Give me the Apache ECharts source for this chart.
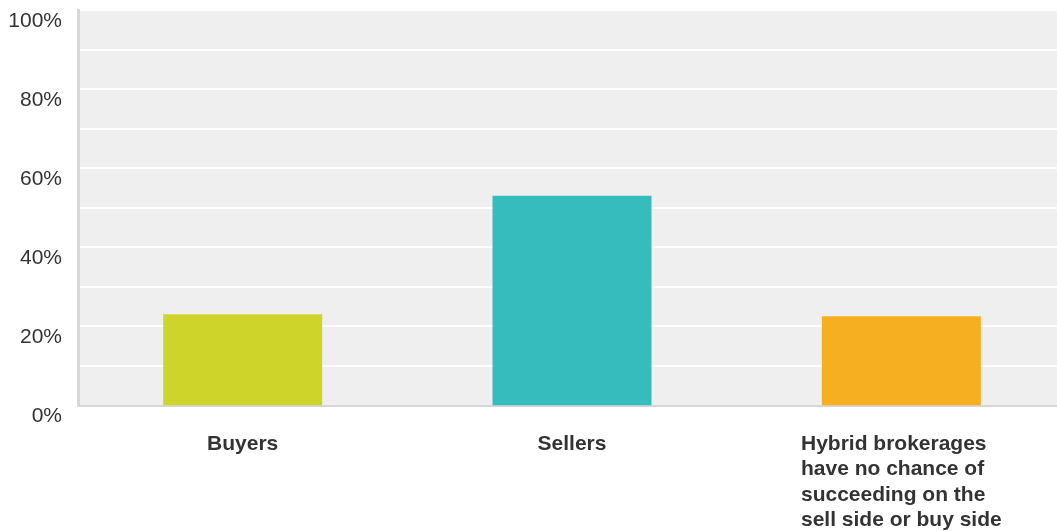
<!DOCTYPE html>
<html><head><meta charset="utf-8">
<script src="https://cdn.jsdelivr.net/npm/echarts@6/dist/echarts.min.js"></script>
<style>html,body{margin:0;padding:0;background:#fff;overflow:hidden}#c{width:1066px;height:531px}</style>
</head><body><div id="c"></div>
<script>
const categories = ['Buyers', 'Sellers', 'Hybrid brokerages have no chance of succeeding on the sell side or buy side'];
const categoryLines = [['Buyers'], ['Sellers'], ['Hybrid brokerages', 'have no chance of', 'succeeding on the', 'sell side or buy side']];
const values = [23.0, 53.0, 22.5];
const barColors = ['#cfd42a', '#35bdbe', '#f6af20'];
const yTicks = [0, 20, 40, 60, 80, 100];

const chart = echarts.init(document.getElementById('c'), null, {renderer: 'canvas'});
chart.setOption({
  animation: false,
  grid: {left: 78, top: 10, right: 0, height: 396, containLabel: false,
         show: true, backgroundColor: '#efefef', borderWidth: 0},
  xAxis: {
    type: 'category', data: categories,
    axisLine: {show: true, lineStyle: {color: '#d6d6d6', width: 2}},
    axisTick: {show: false},
    axisLabel: {
      interval: 0, margin: 26,
      formatter: function (v, i) { return categoryLines[i].map(l => '{a|' + l + '}').join('\n'); },
      rich: {a: {fontFamily: 'Liberation Sans, Arial, sans-serif', fontWeight: 'bold', fontSize: 21,
                 color: '#333', lineHeight: 25.5, align: 'left'}}
    }
  },
  yAxis: {
    type: 'value', min: 0, max: 100, interval: 10,
    axisLine: {show: true, lineStyle: {color: '#d6d6d6', width: 3}},
    axisTick: {show: false},
    splitLine: {show: true, lineStyle: {color: '#ffffff', width: 2}},
    axisLabel: {
      margin: 16, fontFamily: 'Liberation Sans, Arial, sans-serif', fontSize: 21, color: '#333',
      verticalAlign: 'top', lineHeight: 22,
      formatter: function (v) { return yTicks.indexOf(v) >= 0 ? v + '%' : ''; }
    }
  },
  series: [{
    type: 'bar', barWidth: 159,
    data: values.map((v, i) => ({value: v, itemStyle: {color: barColors[i]}}))
  }]
});
</script></body></html>
